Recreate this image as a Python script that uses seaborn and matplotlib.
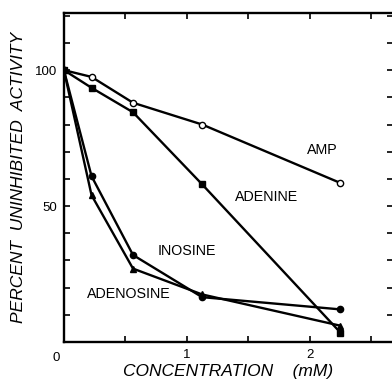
import numpy as np
import pandas as pd
import matplotlib
matplotlib.use("Agg")
import matplotlib.pyplot as plt
import seaborn as sns

conc = [0, 0.225, 0.5625, 1.125, 2.25]
amp = [100, 97.5, 88, 80, 58.5]
adenine = [100, 93.5, 84.5, 58, 3.5]
inosine = [100, 61, 32, 16.5, 12]
adenosine = [100, 54, 27, 17.5, 6]

series = {"AMP": amp, "ADENINE": adenine, "INOSINE": inosine, "ADENOSINE": adenosine}
rows = []
for name, vals in series.items():
    for c, v in zip(conc, vals):
        rows.append({"conc": c, "activity": v, "compound": name})
df = pd.DataFrame(rows)

sns.set_style("ticks")
plt.rcParams['font.family'] = ['Liberation Sans', 'DejaVu Sans']
plt.rcParams['text.color'] = 'black'
plt.rcParams['axes.labelcolor'] = 'black'
plt.rcParams['xtick.color'] = 'black'
plt.rcParams['ytick.color'] = 'black'
plt.rcParams['axes.edgecolor'] = 'black'

fig = plt.figure(figsize=(3.92, 3.83), dpi=100)
ax = fig.add_axes([0.163, 0.107, 0.84, 0.859])

styles = {
    "AMP": dict(marker="o", mfc="white", ms=4.5),
    "ADENINE": dict(marker="s", mfc="black", ms=4),
    "INOSINE": dict(marker="o", mfc="black", ms=4.5),
    "ADENOSINE": dict(marker="^", mfc="black", ms=4.5),
}
for name in series:
    st = styles[name]
    sns.lineplot(data=df[df.compound == name], x="conc", y="activity", ax=ax,
                 color="black", lw=1.7, marker=st["marker"],
                 markerfacecolor=st["mfc"], markeredgecolor="black",
                 markersize=st["ms"], markeredgewidth=1.0, legend=False)

ax.set_xlim(0, 2.68)
ax.set_ylim(0, 121)

ax.set_xticks(np.arange(0, 2.6, 0.5))
ax.set_xticklabels(["", "", "1", "", "2", ""])
ax.set_yticks(np.arange(0, 121, 10))
ax.set_yticklabels(["" if v not in (50, 100) else str(v) for v in range(0, 121, 10)])
ax.tick_params(axis="both", direction="in", length=4, width=1.2, labelsize=9.5,
               top=True, right=True, pad=5, colors="black")
ax.text(-0.06, -6.0, "0", ha="center", va="center", fontsize=9.5)

for s in ["left", "bottom", "top"]:
    ax.spines[s].set_linewidth(1.7)
    ax.spines[s].set_color("black")
ax.spines["right"].set_visible(False)

ax.set_xlabel("CONCENTRATION    (mM)", fontsize=12.5, style="italic", labelpad=2)
ax.set_ylabel("PERCENT  UNINHIBITED  ACTIVITY", fontsize=12.5, style="italic", labelpad=6)

lab_kw = dict(fontsize=10.3, ha="center", va="center")
ax.text(2.1, 70.5, "AMP", **lab_kw)
ax.text(1.65, 53.5, "ADENINE", **lab_kw)
ax.text(1.0, 33.5, "INOSINE", **lab_kw)
ax.text(0.525, 17.5, "ADENOSINE", **lab_kw)

fig.savefig("out.png", dpi=100)
